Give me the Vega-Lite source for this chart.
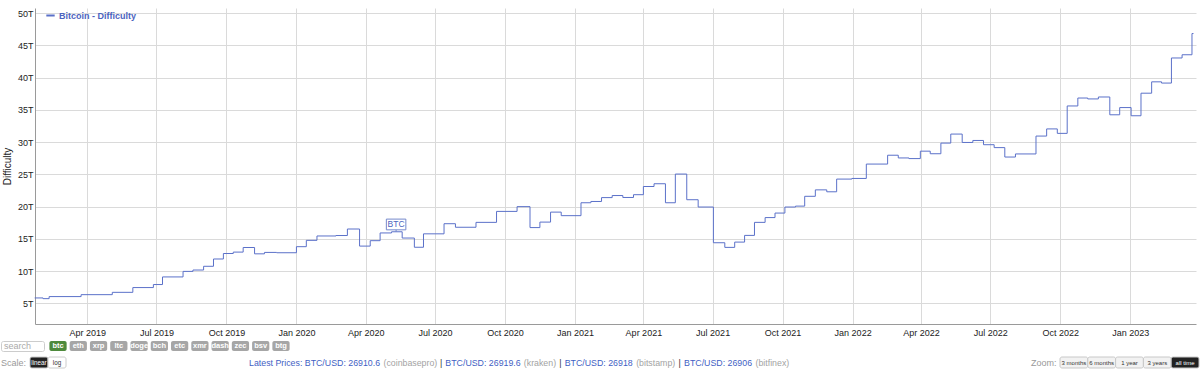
{
  "$schema": "https://vega.github.io/schema/vega-lite/v6.json",
  "padding": {"left": 0, "top": 8, "right": 5, "bottom": 0},
  "background": "white",
  "config": {"view": {"stroke": null}, "font": "Liberation Sans"},
  "datasets": {
    "difficulty": [
      {"date": "2019-01-22", "difficulty": 5.84},
      {"date": "2019-02-02", "difficulty": 5.73},
      {"date": "2019-02-10", "difficulty": 6.05},
      {"date": "2019-03-24", "difficulty": 6.35},
      {"date": "2019-05-04", "difficulty": 6.71},
      {"date": "2019-05-31", "difficulty": 7.45},
      {"date": "2019-06-27", "difficulty": 7.92},
      {"date": "2019-07-09", "difficulty": 9.1},
      {"date": "2019-08-05", "difficulty": 9.96},
      {"date": "2019-08-18", "difficulty": 10.17},
      {"date": "2019-09-01", "difficulty": 10.75},
      {"date": "2019-09-14", "difficulty": 11.88},
      {"date": "2019-09-27", "difficulty": 12.73},
      {"date": "2019-10-10", "difficulty": 12.95},
      {"date": "2019-10-23", "difficulty": 13.66},
      {"date": "2019-11-07", "difficulty": 12.68},
      {"date": "2019-11-20", "difficulty": 12.9},
      {"date": "2019-12-06", "difficulty": 12.85},
      {"date": "2020-01-01", "difficulty": 13.79},
      {"date": "2020-01-14", "difficulty": 14.77},
      {"date": "2020-01-28", "difficulty": 15.45},
      {"date": "2020-02-22", "difficulty": 15.52},
      {"date": "2020-03-08", "difficulty": 16.53},
      {"date": "2020-03-24", "difficulty": 13.88},
      {"date": "2020-04-07", "difficulty": 14.72},
      {"date": "2020-04-20", "difficulty": 15.92},
      {"date": "2020-05-05", "difficulty": 16.1},
      {"date": "2020-05-19", "difficulty": 15.13},
      {"date": "2020-06-04", "difficulty": 13.7},
      {"date": "2020-06-16", "difficulty": 15.78},
      {"date": "2020-07-13", "difficulty": 17.35},
      {"date": "2020-07-28", "difficulty": 16.8},
      {"date": "2020-08-24", "difficulty": 17.56},
      {"date": "2020-09-20", "difficulty": 19.26},
      {"date": "2020-10-17", "difficulty": 20.0},
      {"date": "2020-11-03", "difficulty": 16.75},
      {"date": "2020-11-16", "difficulty": 17.6},
      {"date": "2020-11-30", "difficulty": 19.15},
      {"date": "2020-12-14", "difficulty": 18.6},
      {"date": "2021-01-09", "difficulty": 20.6},
      {"date": "2021-01-22", "difficulty": 20.8},
      {"date": "2021-02-05", "difficulty": 21.4},
      {"date": "2021-02-19", "difficulty": 21.72},
      {"date": "2021-03-05", "difficulty": 21.42},
      {"date": "2021-03-19", "difficulty": 21.85},
      {"date": "2021-04-01", "difficulty": 23.12},
      {"date": "2021-04-15", "difficulty": 23.55},
      {"date": "2021-04-30", "difficulty": 20.6},
      {"date": "2021-05-13", "difficulty": 25.05},
      {"date": "2021-05-28", "difficulty": 21.07},
      {"date": "2021-06-12", "difficulty": 19.94},
      {"date": "2021-07-02", "difficulty": 14.4},
      {"date": "2021-07-17", "difficulty": 13.68},
      {"date": "2021-07-30", "difficulty": 14.5},
      {"date": "2021-08-12", "difficulty": 15.54},
      {"date": "2021-08-25", "difficulty": 17.56},
      {"date": "2021-09-08", "difficulty": 18.3},
      {"date": "2021-09-21", "difficulty": 19.0},
      {"date": "2021-10-04", "difficulty": 19.94},
      {"date": "2021-10-18", "difficulty": 20.08},
      {"date": "2021-10-30", "difficulty": 21.6},
      {"date": "2021-11-13", "difficulty": 22.6},
      {"date": "2021-11-28", "difficulty": 22.3},
      {"date": "2021-12-11", "difficulty": 24.27},
      {"date": "2021-12-31", "difficulty": 24.37},
      {"date": "2022-01-19", "difficulty": 26.6},
      {"date": "2022-02-16", "difficulty": 27.97},
      {"date": "2022-03-02", "difficulty": 27.55},
      {"date": "2022-03-16", "difficulty": 27.45},
      {"date": "2022-03-31", "difficulty": 28.6},
      {"date": "2022-04-13", "difficulty": 28.2},
      {"date": "2022-04-27", "difficulty": 29.85},
      {"date": "2022-05-10", "difficulty": 31.25},
      {"date": "2022-05-25", "difficulty": 29.95},
      {"date": "2022-06-08", "difficulty": 30.26},
      {"date": "2022-06-22", "difficulty": 29.6},
      {"date": "2022-07-06", "difficulty": 29.15},
      {"date": "2022-07-20", "difficulty": 27.69},
      {"date": "2022-08-03", "difficulty": 28.17},
      {"date": "2022-08-30", "difficulty": 30.94},
      {"date": "2022-09-13", "difficulty": 32.05},
      {"date": "2022-09-27", "difficulty": 31.36},
      {"date": "2022-10-10", "difficulty": 35.61},
      {"date": "2022-10-24", "difficulty": 36.84},
      {"date": "2022-11-06", "difficulty": 36.7},
      {"date": "2022-11-20", "difficulty": 37.0},
      {"date": "2022-12-05", "difficulty": 34.24},
      {"date": "2022-12-18", "difficulty": 35.36},
      {"date": "2023-01-02", "difficulty": 34.09},
      {"date": "2023-01-15", "difficulty": 37.59},
      {"date": "2023-01-29", "difficulty": 39.35},
      {"date": "2023-02-11", "difficulty": 39.16},
      {"date": "2023-02-24", "difficulty": 43.05},
      {"date": "2023-03-10", "difficulty": 43.55},
      {"date": "2023-03-23", "difficulty": 46.84},
      {"date": "2023-03-25", "difficulty": 46.84}
    ],
    "annotation": [
      {"date": "2020-05-11", "difficulty": 16.1, "label": "BTC"}
    ]
  },
  "spacing": 3,
  "vconcat": [
    {
      "spacing": 0,
      "hconcat": [
        {
          "width": 1,
          "height": 316,
          "data": {"values": [{"s": ""}]},
          "mark": {"type": "text"},
          "encoding": {"text": {"field": "s"}}
        },
        {
          "width": 1161,
          "height": 316,
          "encoding": {
            "x": {
              "field": "date",
              "type": "temporal",
              "scale": {"domain": [{"year": 2019, "month": 1, "date": 22, "hours": 10}, {"year": 2023, "month": 3, "date": 28, "hours": 7}]},
              "axis": {
                "title": null,
                "format": "%b %Y",
                "tickCount": {"interval": "month", "step": 3},
                "labelFontSize": 9,
                "labelFont": "Liberation Sans",
                "labelColor": "#222",
                "labelPadding": 4,
                "labelFlush": false,
                "ticks": false,
                "domainColor": "#9a9a9a",
                "gridColor": "#dadada"
              }
            },
            "y": {
              "field": "difficulty",
              "type": "quantitative",
              "scale": {"domain": [1.8, 50.8], "nice": false, "zero": false},
              "axis": {
                "title": "Difficulty",
                "titleFontSize": 10,
                "titleFont": "Liberation Sans",
                "titleFontWeight": "normal",
                "titleColor": "#222",
                "titlePadding": 5,
                "values": [5, 10, 15, 20, 25, 30, 35, 40, 45, 50],
                "labelExpr": "datum.value + 'T'",
                "labelFontSize": 9,
                "labelFont": "Liberation Sans",
                "labelColor": "#222",
                "labelPadding": 2,
                "ticks": false,
                "domainColor": "#9a9a9a",
                "gridColor": "#dadada"
              }
            }
          },
          "layer": [
            {
              "data": {"name": "difficulty"},
              "mark": {"type": "line", "interpolate": "step-after", "strokeWidth": 1},
              "encoding": {
                "color": {
                  "datum": "Bitcoin - Difficulty",
                  "scale": {"range": ["#5b71c9"]},
                  "legend": {
                    "orient": "none",
                    "legendX": 44,
                    "legendY": 2,
                    "title": null,
                    "padding": 0,
                    "symbolType": "stroke",
                    "symbolSize": 70,
                    "symbolStrokeWidth": 2,
                    "labelFontSize": 9,
                    "labelFont": "Liberation Sans",
                    "labelFontWeight": "bold",
                    "labelColor": "#4b63c0",
                    "labelOffset": 3
                  }
                }
              }
            },
            {
              "data": {"name": "annotation"},
              "mark": {"type": "point", "shape": "M-1,-1.3H1V-0.2H-1Z M0,-0.2V0", "size": 380, "filled": true, "fill": "white", "stroke": "#7488cc", "strokeWidth": 1, "opacity": 1}
            },
            {
              "data": {"name": "annotation"},
              "mark": {"type": "text", "dy": -7.3, "fontSize": 8.5, "font": "Liberation Sans", "color": "#4b63c0"},
              "encoding": {"text": {"field": "label"}}
            }
          ]
        }
      ]
    },
    {
      "spacing": 4,
      "vconcat": [
        {
          "spacing": 4,
          "hconcat": [
            {
              "width": 43,
              "height": 10,
              "view": {"fill": "#ffffff", "stroke": "#cccccc", "cornerRadius": 2},
              "data": {"values": [{"label": "search"}]},
              "mark": {"type": "text", "align": "left", "dx": -18.5, "fontSize": 9, "font": "Liberation Sans", "color": "#aaaaaa"},
              "encoding": {"text": {"field": "label"}}
            },
            {
              "width": 241,
              "height": 10,
              "data": {"values": [
                {"coin": "btc", "state": "on"},
                {"coin": "eth", "state": "off"},
                {"coin": "xrp", "state": "off"},
                {"coin": "ltc", "state": "off"},
                {"coin": "doge", "state": "off"},
                {"coin": "bch", "state": "off"},
                {"coin": "etc", "state": "off"},
                {"coin": "xmr", "state": "off"},
                {"coin": "dash", "state": "off"},
                {"coin": "zec", "state": "off"},
                {"coin": "bsv", "state": "off"},
                {"coin": "btg", "state": "off"}
              ]},
              "encoding": {
                "x": {"field": "coin", "type": "nominal", "sort": null, "axis": null, "scale": {"paddingInner": 0.15, "paddingOuter": 0.02}}
              },
              "layer": [
                {
                  "mark": {"type": "rect", "cornerRadius": 2},
                  "encoding": {"color": {"condition": {"test": "datum.state === 'on'", "value": "#4e8a3c"}, "value": "#a6a6a6"}}
                },
                {
                  "mark": {"type": "text", "fontSize": 7.5, "fontWeight": "bold", "font": "Liberation Sans", "color": "#ffffff"},
                  "encoding": {"text": {"field": "coin"}}
                }
              ]
            }
          ]
        },
        {
          "spacing": 241,
          "hconcat": [
            {
              "spacing": 182,
              "hconcat": [
                {
                  "spacing": 2,
                  "hconcat": [
                    {
                      "width": 25,
                      "height": 11,
                      "data": {"values": [{"label": "Scale:"}]},
                      "mark": {"type": "text", "align": "left", "dx": -12.5, "fontSize": 9, "font": "Liberation Sans", "color": "#999999"},
                      "encoding": {"text": {"field": "label"}}
                    },
                    {
                      "width": 36,
                      "height": 11,
                      "data": {"values": [{"option": "linear", "state": "on"}, {"option": "log", "state": "off"}]},
                      "encoding": {"x": {"field": "option", "type": "nominal", "sort": null, "axis": null, "scale": {"paddingInner": 0, "paddingOuter": 0}}},
                      "layer": [
                        {
                          "mark": {"type": "rect", "stroke": "#cccccc", "strokeWidth": 1, "cornerRadius": 2},
                          "encoding": {"color": {"condition": {"test": "datum.state === 'on'", "value": "#222222"}, "value": "#ffffff"}}
                        },
                        {
                          "mark": {"type": "text", "fontSize": 6.3, "font": "Liberation Sans"},
                          "encoding": {"text": {"field": "option"}, "color": {"condition": {"test": "datum.state === 'on'", "value": "#ffffff"}, "value": "#333333"}}
                        }
                      ]
                    }
                  ]
                },
                {
                  "spacing": 2.45,
                  "hconcat": [
                    {"width": 131.1, "height": 11, "data": {"values": [{"t": "Latest Prices: BTC/USD: 26910.6"}]}, "mark": {"type": "text", "fontSize": 8.8, "font": "Liberation Sans", "color": "#3f5fc4"}, "encoding": {"text": {"field": "t"}}},
                    {"width": 53.8, "height": 11, "data": {"values": [{"t": "(coinbasepro)"}]}, "mark": {"type": "text", "fontSize": 8.8, "font": "Liberation Sans", "color": "#a3a3a3"}, "encoding": {"text": {"field": "t"}}},
                    {"width": 2.3, "height": 11, "data": {"values": [{"t": "|"}]}, "mark": {"type": "text", "fontSize": 8.8, "font": "Liberation Sans", "color": "#333333"}, "encoding": {"text": {"field": "t"}}},
                    {"width": 75.3, "height": 11, "data": {"values": [{"t": "BTC/USD: 26919.6"}]}, "mark": {"type": "text", "fontSize": 8.8, "font": "Liberation Sans", "color": "#3f5fc4"}, "encoding": {"text": {"field": "t"}}},
                    {"width": 32.3, "height": 11, "data": {"values": [{"t": "(kraken)"}]}, "mark": {"type": "text", "fontSize": 8.8, "font": "Liberation Sans", "color": "#a3a3a3"}, "encoding": {"text": {"field": "t"}}},
                    {"width": 2.3, "height": 11, "data": {"values": [{"t": "|"}]}, "mark": {"type": "text", "fontSize": 8.8, "font": "Liberation Sans", "color": "#333333"}, "encoding": {"text": {"field": "t"}}},
                    {"width": 68.0, "height": 11, "data": {"values": [{"t": "BTC/USD: 26918"}]}, "mark": {"type": "text", "fontSize": 8.8, "font": "Liberation Sans", "color": "#3f5fc4"}, "encoding": {"text": {"field": "t"}}},
                    {"width": 39.1, "height": 11, "data": {"values": [{"t": "(bitstamp)"}]}, "mark": {"type": "text", "fontSize": 8.8, "font": "Liberation Sans", "color": "#a3a3a3"}, "encoding": {"text": {"field": "t"}}},
                    {"width": 2.3, "height": 11, "data": {"values": [{"t": "|"}]}, "mark": {"type": "text", "fontSize": 8.8, "font": "Liberation Sans", "color": "#333333"}, "encoding": {"text": {"field": "t"}}},
                    {"width": 68.0, "height": 11, "data": {"values": [{"t": "BTC/USD: 26906"}]}, "mark": {"type": "text", "fontSize": 8.8, "font": "Liberation Sans", "color": "#3f5fc4"}, "encoding": {"text": {"field": "t"}}},
                    {"width": 33.7, "height": 11, "data": {"values": [{"t": "(bitfinex)"}]}, "mark": {"type": "text", "fontSize": 8.8, "font": "Liberation Sans", "color": "#a3a3a3"}, "encoding": {"text": {"field": "t"}}}
                  ]
                }
              ]
            },
            {
              "spacing": 2,
              "hconcat": [
                {
                  "width": 26,
                  "height": 11,
                  "data": {"values": [{"label": "Zoom:"}]},
                  "mark": {"type": "text", "align": "left", "dx": -13, "fontSize": 9, "font": "Liberation Sans", "color": "#999999"},
                  "encoding": {"text": {"field": "label"}}
                },
                {
                  "width": 139,
                  "height": 11,
                  "data": {"values": [
                    {"range": "3 months", "state": "off"},
                    {"range": "6 months", "state": "off"},
                    {"range": "1 year", "state": "off"},
                    {"range": "3 years", "state": "off"},
                    {"range": "all time", "state": "on"}
                  ]},
                  "encoding": {"x": {"field": "range", "type": "nominal", "sort": null, "axis": null, "scale": {"paddingInner": 0, "paddingOuter": 0}}},
                  "layer": [
                    {
                      "mark": {"type": "rect", "stroke": "#c8c8c8", "strokeWidth": 1, "cornerRadius": 2},
                      "encoding": {"color": {"condition": {"test": "datum.state === 'on'", "value": "#222222"}, "value": "#f2f2f2"}}
                    },
                    {
                      "mark": {"type": "text", "fontSize": 6, "font": "Liberation Sans"},
                      "encoding": {"text": {"field": "range"}, "color": {"condition": {"test": "datum.state === 'on'", "value": "#ffffff"}, "value": "#333333"}}
                    }
                  ]
                }
              ]
            }
          ]
        }
      ]
    }
  ]
}
